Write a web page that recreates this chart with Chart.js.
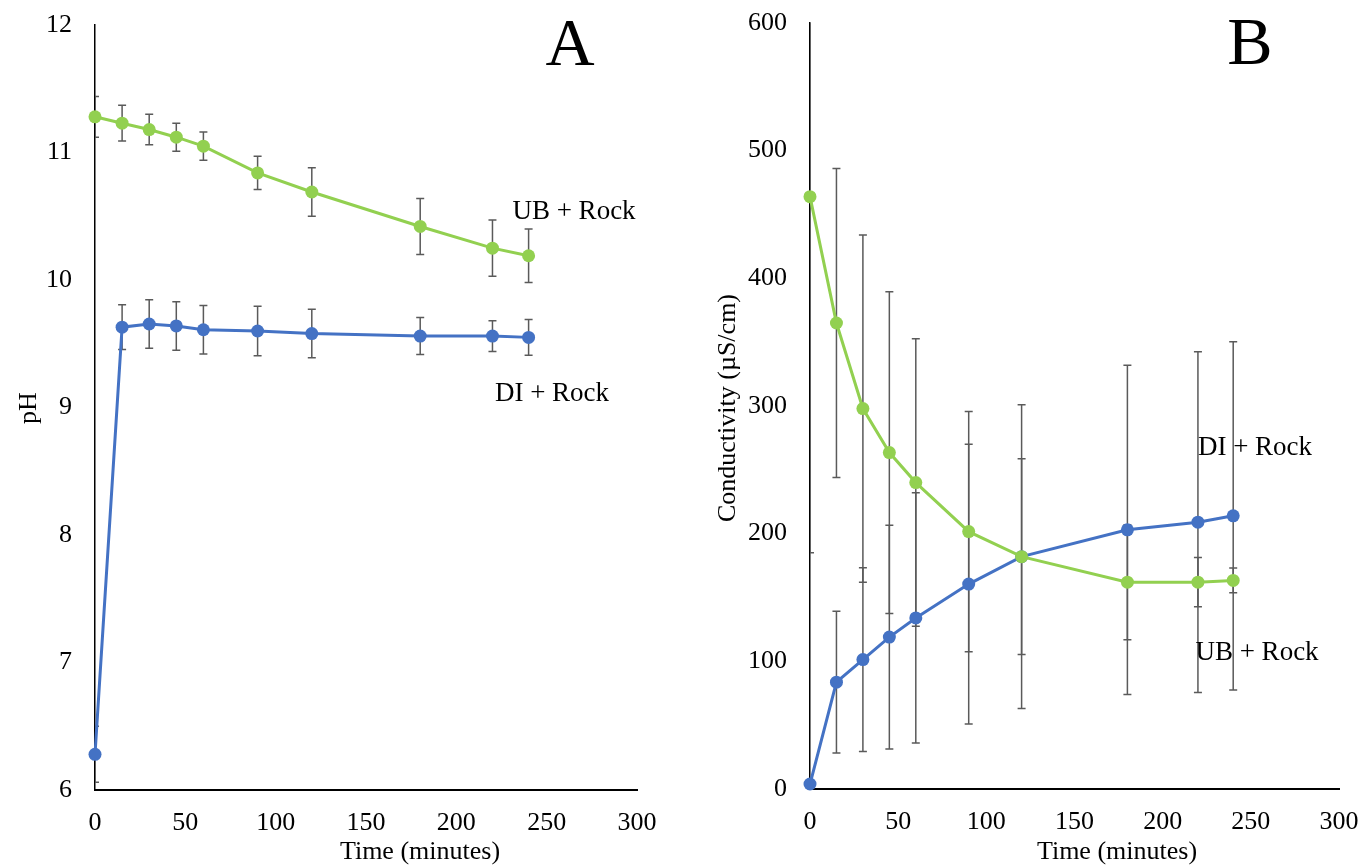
<!DOCTYPE html>
<html><head><meta charset="utf-8">
<script src="https://cdn.jsdelivr.net/npm/chart.js@4.4.0/dist/chart.umd.min.js"></script>
<style>
html,body{margin:0;padding:0;background:#fff;overflow:hidden;}
#cA{position:absolute;left:0;top:0;}
#cB{position:absolute;left:680px;top:0;}
</style></head><body>
<canvas id="cA" width="680" height="865"></canvas>
<canvas id="cB" width="682" height="865"></canvas>
<script>
// ---- data ----
const timeMinutes = [0, 15, 30, 45, 60, 90, 120, 180, 220, 240];
const phUB     = [11.28, 11.23, 11.18, 11.12, 11.05, 10.84, 10.69, 10.42, 10.25, 10.19];
const phUBErr  = [0.16, 0.14, 0.12, 0.11, 0.11, 0.13, 0.19, 0.22, 0.22, 0.21];
const phDI     = [6.28, 9.63, 9.655, 9.64, 9.61, 9.60, 9.58, 9.56, 9.56, 9.55];
const phDIErr  = [0.22, 0.175, 0.19, 0.19, 0.19, 0.195, 0.19, 0.145, 0.12, 0.14];
const condUB    = [464, 365, 298, 263.5, 240, 201.6, 182, 162, 162, 163.4];
const condUBErr = [279, 121, 136, 126, 112.6, 94, 119, 45, 19.3, 9.7];
const condDI    = [3.9, 83.7, 101.4, 119, 134, 160.5, 182, 203, 209, 214];
const condDIErr = [0, 55.5, 72, 87.6, 98, 109.5, 76.6, 129, 133.4, 136.4];
const xTickValues = [0, 50, 100, 150, 200, 250, 300];
const phTickValues = [6, 7, 8, 9, 10, 11, 12];
const condTickValues = [0, 100, 200, 300, 400, 500, 600];
const seriesNames = ['UB + Rock', 'DI + Rock'];

const GREEN = '#92D050', BLUE = '#4472C4', ERR = '#5a5a5a';
const SERIF = '"Liberation Serif", "Times New Roman", serif';

function pts(ys) { return timeMinutes.map((t, i) => ({x: t, y: ys[i]})); }

const errorBars = {
  id: 'errorBars',
  beforeDatasetsDraw(chart) {
    const ctx = chart.ctx, ys = chart.scales.y, a = chart.chartArea;
    ctx.save();
    ctx.beginPath(); ctx.rect(a.left, a.top, a.right - a.left, a.bottom - a.top); ctx.clip();
    ctx.strokeStyle = ERR; ctx.lineWidth = 1.5;
    chart.data.datasets.forEach((ds, di) => {
      const meta = chart.getDatasetMeta(di);
      (ds.errors || []).forEach((e, i) => {
        if (!e) return;
        const p = meta.data[i], v = ds.data[i].y;
        const top = ys.getPixelForValue(v + e), bot = ys.getPixelForValue(v - e);
        ctx.beginPath();
        ctx.moveTo(p.x, top); ctx.lineTo(p.x, bot);
        ctx.moveTo(p.x - 4, top); ctx.lineTo(p.x + 4, top);
        ctx.moveTo(p.x - 4, bot); ctx.lineTo(p.x + 4, bot);
        ctx.stroke();
      });
    });
    ctx.restore();
  }
};

const texts = {
  id: 'texts',
  afterDraw(chart, args, opts) {
    const ctx = chart.ctx;
    (opts.items || []).forEach(it => {
      ctx.save();
      ctx.fillStyle = '#000';
      ctx.font = it.size + 'px ' + SERIF;
      ctx.textAlign = 'center'; ctx.textBaseline = 'middle';
      ctx.translate(it.x, it.y);
      if (it.rot) ctx.rotate(it.rot);
      ctx.fillText(it.text, 0, 0);
      ctx.restore();
    });
  }
};

function makeChart(id, ubData, ubErr, diData, diErr, yMin, yMax, yTicks, yWidth, padTop, padRight, xHeight, items) {
  return new Chart(document.getElementById(id), {
    type: 'line',
    data: {
      datasets: [
        {label: seriesNames[0], data: pts(ubData), errors: ubErr, borderColor: GREEN, backgroundColor: GREEN,
         borderWidth: 3, pointRadius: 6.5, pointBorderWidth: 0, tension: 0, clip: false},
        {label: seriesNames[1], data: pts(diData), errors: diErr, borderColor: BLUE, backgroundColor: BLUE,
         borderWidth: 3, pointRadius: 6.5, pointBorderWidth: 0, tension: 0, clip: false}
      ]
    },
    options: {
      responsive: false, animation: false,
      layout: {padding: {top: padTop, right: padRight, left: 0, bottom: 0}},
      plugins: {legend: {display: false}, tooltip: {enabled: false}, texts: {items}},
      scales: {
        x: {type: 'linear', min: 0, max: 300,
            afterBuildTicks: s => { s.ticks = xTickValues.map(v => ({value: v})); },
            afterFit: s => { s.height = xHeight; s.paddingLeft = 0; s.paddingRight = 0; },
            grid: {display: false, drawTicks: false}, border: {color: '#000', width: 2},
            ticks: {color: '#000', padding: 18, font: {family: SERIF, size: 26}, maxRotation: 0}},
        y: {type: 'linear', min: yMin, max: yMax,
            afterBuildTicks: s => { s.ticks = yTicks.map(v => ({value: v})); },
            afterFit: s => { s.width = yWidth; s.paddingTop = 0; s.paddingBottom = 0; },
            grid: {display: false, drawTicks: false}, border: {color: '#000', width: 1.5},
            ticks: {color: '#000', padding: 23, font: {family: SERIF, size: 26}}}
      }
    },
    plugins: [errorBars, texts]
  });
}

makeChart('cA', phUB, phUBErr, phDI, phDIErr, 6, 12, phTickValues, 95, 25, 43, 75, [
  {text: 'A', x: 570, y: 47, size: 68},
  {text: 'UB + Rock', x: 574, y: 212, size: 27},
  {text: 'DI + Rock', x: 552, y: 394, size: 27},
  {text: 'pH', x: 29, y: 408, size: 26, rot: -Math.PI / 2},
  {text: 'Time (minutes)', x: 420, y: 852, size: 26}
]);
makeChart('cB', condUB, condUBErr, condDI, condDIErr, 0, 600, condTickValues, 130, 23, 23, 76, [
  {text: 'B', x: 570, y: 46, size: 68},
  {text: 'DI + Rock', x: 575, y: 448, size: 27},
  {text: 'UB + Rock', x: 577, y: 653, size: 27},
  {text: 'Conductivity (µS/cm)', x: 48, y: 408, size: 26, rot: -Math.PI / 2},
  {text: 'Time (minutes)', x: 437, y: 852, size: 26}
]);
</script>
</body></html>
